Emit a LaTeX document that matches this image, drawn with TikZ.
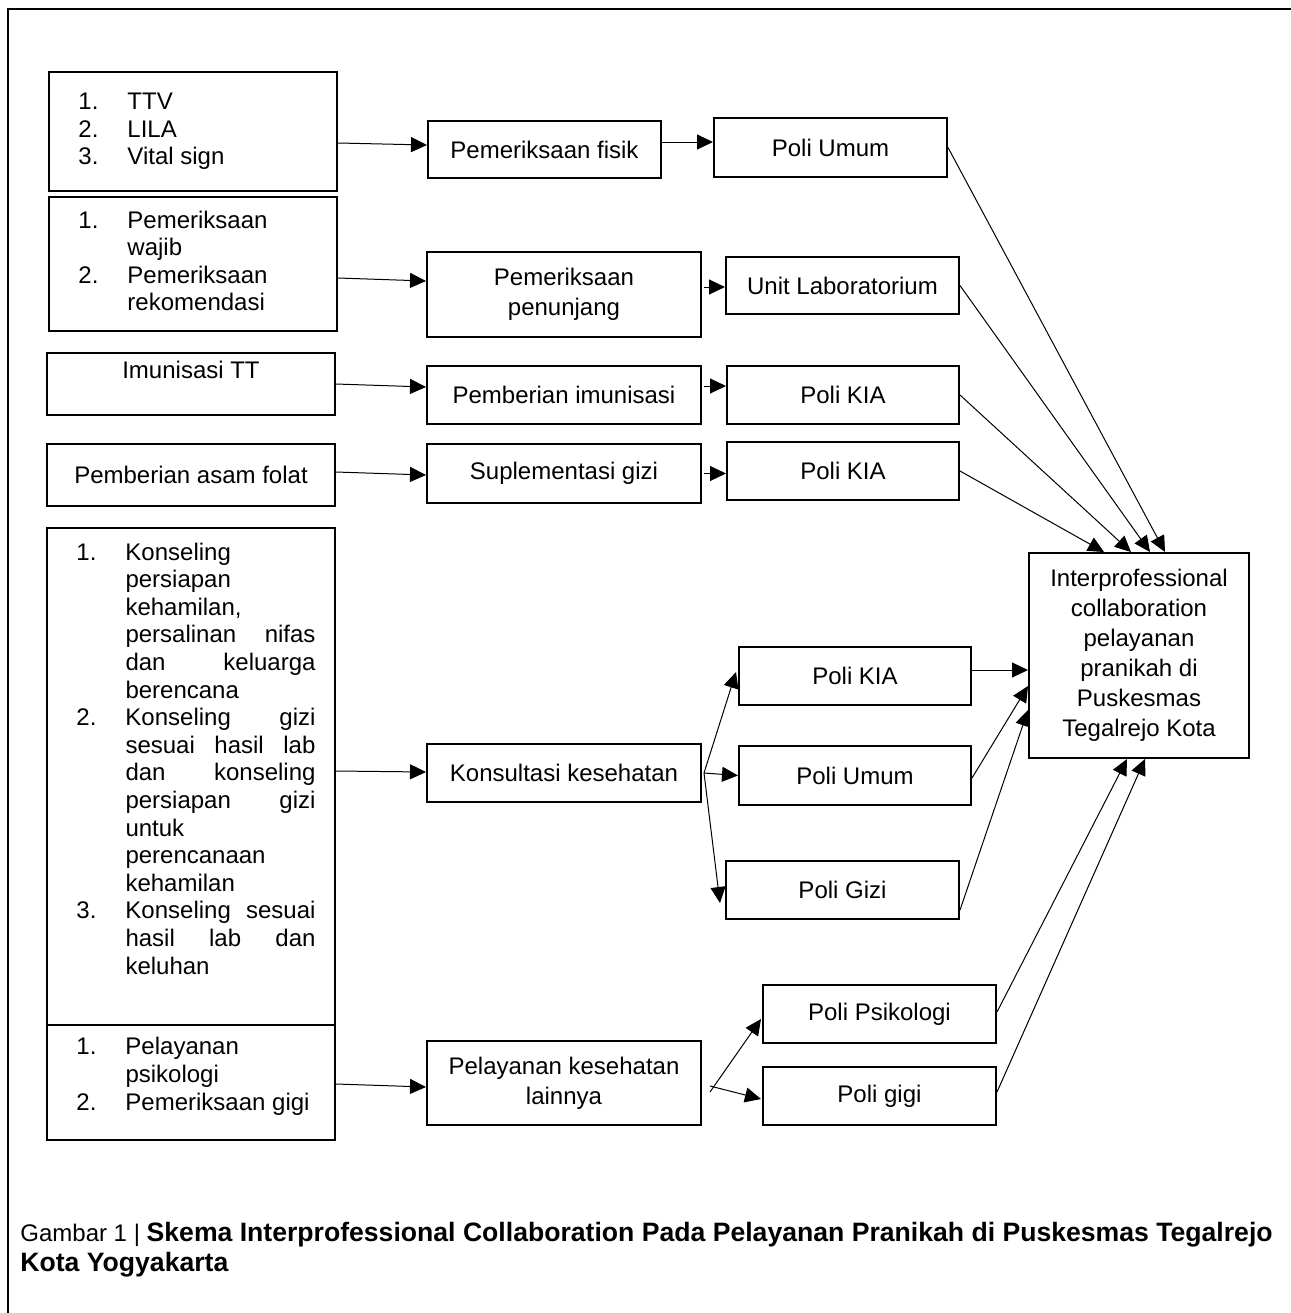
\documentclass[tikz,border=0pt]{standalone}
\usepackage{fontspec}
\setmainfont{Liberation Sans}
\usepackage{array}
\usetikzlibrary{
    arrows.meta,
    calc,
    positioning
}

\newcommand{\lst}[1]{\begin{tabular}{@{\hspace{5pt}}p{24.5pt}@{}p{95pt}@{}}#1\end{tabular}}

\begin{document}
\begin{tikzpicture}[x=0.5pt, y=-0.5pt,
    box/.style={draw, line width=1pt, inner sep=0pt, align=center, font=\fontsize{12}{15}\selectfont},
    listbox/.style={box, minimum width=144pt, font=\fontsize{12}{13.8}\selectfont},
    link/.style={line width=0.5pt, -{Triangle[length=8pt,width=7.5pt]}}]
                                \useasboundingbox (0,0) rectangle (1291,1313);
                                \draw[line width=1pt] (1291,9) -- (8,9) -- (8,1313);
                                \node[listbox, minimum height=59.5pt] (ttv) at (193,131.5)
                                {\lst{1. & TTV\\ 2. & LILA\\ 3. & Vital sign}};
                                \node[listbox, minimum height=67pt] (wajib) at (193,264)
                                {\lst{1. & Pemeriksaan\\ & wajib\\ 2. & Pemeriksaan\\ & rekomendasi}};
                                \node[box, minimum width=144pt, minimum height=31pt, text depth=14pt] (tt) at (191,384) {Imunisasi TT};
                                \node[box, minimum width=144pt, minimum height=31pt] (folat) at (191,475) {Pemberian asam folat};
                                \node[listbox, minimum height=248.5pt] (konseling) at (191,776.5)
                                {\lst{1. & Konseling\\ & persiapan\\ & kehamilan,\\ & persalinan\hfill nifas\\
                                & dan\hfill keluarga\\ & berencana\\
                                2. & Konseling\hfill gizi\\ & sesuai\hfill hasil\hfill lab\\ & dan\hfill konseling\\
                                & persiapan\hfill gizi\\ & untuk\\ & perencanaan\\ & kehamilan\\
                                3. & Konseling\hfill sesuai\\ & hasil\hfill lab\hfill dan\\ & keluhan\\[15pt]}};
                                \node[listbox, minimum height=57.5pt] (lain) at (191,1082.5)
                                {\lst{1. & Pelayanan\\ & psikologi\\ 2. & Pemeriksaan gigi\\[5.5pt]}};
                                \node[box, minimum width=116.5pt, minimum height=28.5pt] (fisik) at (544.5,149.5) {Pemeriksaan fisik};
                                \node[box, minimum width=137pt, minimum height=42.5pt] (penunjang) at (564,294.5) {Pemeriksaan\\penunjang};
                                \node[box, minimum width=137pt, minimum height=29pt] (imunisasi) at (564,395) {Pemberian imunisasi};
                                \node[box, minimum width=137pt, minimum height=29.5pt] (suplemen) at (564,473.5) {Suplementasi gizi};
                                \node[box, minimum width=137pt, minimum height=29pt] (konsultasi) at (564,773) {Konsultasi kesehatan};
                                \node[box, minimum width=137pt, minimum height=42pt] (lainnya) at (564,1083) {Pelayanan kesehatan\\lainnya};
                                \node[box, minimum width=116.5pt, minimum height=29.5pt] (umum) at (830.5,147.5) {Poli Umum};
                                \node[box, minimum width=116.5pt, minimum height=28.5pt] (lab) at (842.5,285.5) {Unit Laboratorium};
                                \node[box, minimum width=116pt, minimum height=29pt] (kia) at (843,395) {Poli KIA};
                                \node[box, minimum width=116pt, minimum height=29pt] (kiab) at (843,471) {Poli KIA};
                                \node[box, minimum width=116pt, minimum height=29pt] (kiac) at (855,676) {Poli KIA};
                                \node[box, minimum width=116pt, minimum height=29.5pt] (umumb) at (855,775.5) {Poli Umum};
                                \node[box, minimum width=116.5pt, minimum height=29pt] (gizi) at (842.5,890) {Poli Gizi};
                                \node[box, minimum width=116.5pt, minimum height=29pt] (psiko) at (879.5,1014) {Poli Psikologi};
                                \node[box, minimum width=116.5pt, minimum height=29pt] (gigi) at (879.5,1096) {Poli gigi};
                                \node[box, minimum width=110pt, minimum height=102.5pt] (ipc) at (1139,655.5)
                                {Interprofessional\\collaboration\\pelayanan\\pranikah di\\Puskesmas\\Tegalrejo Kota};
                                \draw[link] ($(ttv.east)+(0,11.5)$) -- ($(fisik.west)+(0,-4.5)$);
                                \draw[link] ($(wajib.east)+(0,14)$) -- ($(penunjang.west)+(0,-13.5)$);
                                \draw[link] (tt.east) -- ($(imunisasi.west)+(0,-8)$);
                                \draw[link] ($(folat.east)+(0,-3)$) -- ($(suplemen.west)+(0,1.5)$);
                                \draw[link] ($(konseling.east)+(0,-5.5)$) -- ($(konsultasi.west)+(0,-1)$);
                                \draw[link] ($(lain.east)+(0,1.5)$) -- ($(lainnya.west)+(0,4)$);
                                \draw[link] ($(fisik.east)+(0,-7.5)$) -- ($(umum.west)+(0,-5.5)$);
                                \draw[link] ($(penunjang.east)+(2,-7.5)$) -- ($(lab.west)+(0,1.5)$);
                                \draw[link] ($(imunisasi.east)+(2,-9)$) -- ($(kia.west)+(0,-9)$);
                                \draw[link] ($(suplemen.east)+(2,0)$) -- (suplemen.east -| kiab.west);
                                \draw[link] (umum.east) -- ($(ipc.north)+(26,0)$);
                                \draw[link] (lab.east) -- ($(ipc.north)+(11,0)$);
                                \draw[link] (kia.east) -- ($(ipc.north)+(-8,0)$);
                                \draw[link] (kiab.east) -- ($(ipc.north)+(-35,0)$);
                                \draw[link] ($(konsultasi.east)+(2,0)$) -- ($(kiac.west)+(-2,-4)$);
                                \draw[link] ($(konsultasi.east)+(2,0)$) -- (umumb.west);
                                \draw[link] ($(konsultasi.east)+(2,0)$) -- ($(gizi.west)+(-5,13)$);
                                \draw[link] ($(kiac.east)+(0,-6)$) -- ($(ipc.west)+(0,14.5)$);
                                \draw[link] ($(umumb.east)+(0,2.5)$) -- ($(ipc.west)+(0,30.5)$);
                                \draw[link] ($(gizi.east)+(0,20)$) -- ($(ipc.west)+(0,54.5)$);
                                \draw[link] ($(lainnya.east)+(8,9)$) -- ($(psiko.west)+(-1,5)$);
                                \draw[link] ($(lainnya.east)+(8,3)$) -- ($(gigi.west)+(-1,3)$);
                                \draw[link] ($(psiko.east)+(0,-2)$) -- ($(ipc.south)+(-12,0)$);
                                \draw[link] ($(gigi.east)+(0,-4)$) -- ($(ipc.south)+(6,0)$);
                                \node[anchor=north west, align=left, inner sep=0pt, font=\fontsize{12}{15}\selectfont] (caption) at (20,1222)
                                {Gambar 1 \textbar{} {\fontsize{13.3}{15}\selectfont\bfseries Skema Interprofessional Collaboration Pada Pelayanan Pranikah di Puskesmas Tegalrejo}\\
                                {\fontsize{13.3}{15}\selectfont\bfseries Kota Yogyakarta}};
                            \end{tikzpicture}
\end{document}
